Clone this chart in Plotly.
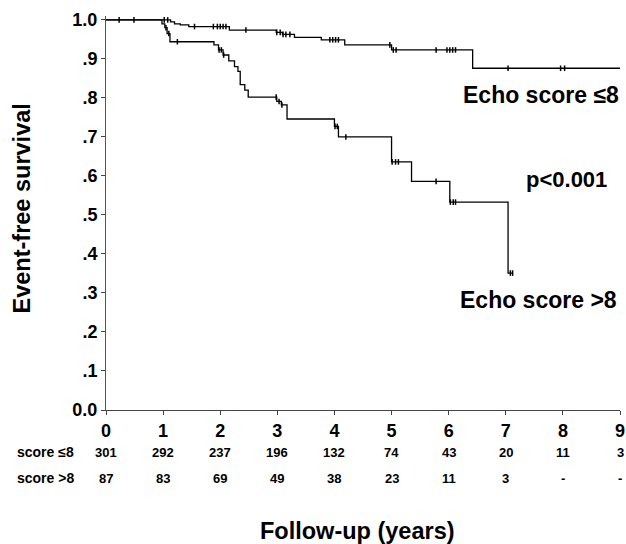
import plotly.graph_objects as go

# ---- data ----
years = [0, 1, 2, 3, 4, 5, 6, 7, 8, 9]
ytick_vals = [0.0, 0.1, 0.2, 0.3, 0.4, 0.5, 0.6, 0.7, 0.8, 0.9, 1.0]
ytick_text = ["0.0", ".1", ".2", ".3", ".4", ".5", ".6", ".7", ".8", ".9", "1.0"]

# Echo score <= 8 : step times and survival after each step
t_le8 = [0, 1.13, 1.20, 1.30, 1.45, 2.16, 2.98, 3.09, 3.30, 3.77, 4.18, 5.00, 6.42, 9.0]
s_le8 = [1.0, 0.995, 0.990, 0.987, 0.983, 0.974, 0.968, 0.963, 0.955, 0.949, 0.936, 0.923, 0.876, 0.876]
c_le8 = [0.23, 0.49, 1.02, 1.08, 1.55, 1.88, 1.95, 2.0, 2.05, 2.1, 2.45, 2.99, 3.05, 3.1, 3.15, 3.22,
         3.92, 3.97, 4.02, 4.07, 4.97, 5.03, 5.08, 5.78, 5.97, 6.02, 6.07, 6.12, 7.04, 7.96, 8.03]

# Echo score > 8
t_gt8 = [0, 0.98, 1.03, 1.07, 1.12, 1.89, 1.97, 2.05, 2.15, 2.25, 2.31, 2.35, 2.43, 2.49,
         2.99, 3.07, 3.17, 4.00, 4.07, 5.00, 5.35, 6.02, 7.04, 7.12]
s_gt8 = [1.0, 0.99, 0.98, 0.965, 0.944, 0.936, 0.923, 0.91, 0.895, 0.88, 0.868, 0.834, 0.82, 0.802,
         0.791, 0.782, 0.746, 0.727, 0.70, 0.636, 0.586, 0.533, 0.351, 0.351]
c_gt8 = [1.05, 1.1, 1.25, 1.98, 2.02, 2.06, 2.98, 3.03, 3.08, 4.01, 4.05, 4.2, 5.01, 5.07, 5.12,
         5.78, 6.03, 6.08, 6.12, 7.08, 7.12]

risk_le8 = ["301", "292", "237", "196", "132", "74", "43", "20", "11", "3"]
risk_gt8 = ["87", "83", "69", "49", "38", "23", "11", "3", "-", "-"]


def surv_at(t_list, s_list, x):
    v = s_list[0]
    for t, s in zip(t_list, s_list):
        if t <= x:
            v = s
    return v


FONT = "Arial, Liberation Sans, Helvetica, sans-serif"
fig = go.Figure()

for t, s, c in [(t_le8, s_le8, c_le8), (t_gt8, s_gt8, c_gt8)]:
    fig.add_trace(go.Scatter(x=t, y=s, mode="lines", line=dict(color="black", width=1.3, shape="hv"),
                             hoverinfo="skip", showlegend=False))
    fig.add_trace(go.Scatter(x=c, y=[surv_at(t, s, v) for v in c], mode="markers",
                             marker=dict(symbol="line-ns-open", size=4, color="black",
                                         line=dict(color="black", width=1.5)),
                             hoverinfo="skip", showlegend=False))

ann = []
ann.append(dict(x=7.62, y=0.808, xref="x", yref="y", text="<b>Echo score ≤8</b>", showarrow=False,
                xanchor="center", yanchor="middle", font=dict(size=23, family=FONT, color="black")))
ann.append(dict(x=8.06, y=0.59, xref="x", yref="y", text="<b>p<0.001</b>", showarrow=False,
                xanchor="center", yanchor="middle", font=dict(size=22, family=FONT, color="black")))
ann.append(dict(x=7.58, y=0.282, xref="x", yref="y", text="<b>Echo score >8</b>", showarrow=False,
                xanchor="center", yanchor="middle", font=dict(size=23, family=FONT, color="black")))

for yr, a, b in zip(years, risk_le8, risk_gt8):
    ann.append(dict(x=yr, y=-0.1066, xref="x", yref="paper", text="<b>%s</b>" % a, showarrow=False,
                    xanchor="center", yanchor="middle", font=dict(size=13, family=FONT, color="black")))
    ann.append(dict(x=yr, y=-0.1726, xref="x", yref="paper", text="<b>%s</b>" % b, showarrow=False,
                    xanchor="center", yanchor="middle", font=dict(size=13, family=FONT, color="black")))

ann.append(dict(x=-0.0584, y=-0.1066, xref="paper", yref="paper", xanchor="right", yanchor="middle",
                text="<b>score ≤8</b>", showarrow=False, font=dict(size=14, family=FONT, color="black")))
ann.append(dict(x=-0.0584, y=-0.1726, xref="paper", yref="paper", xanchor="right", yanchor="middle",
                text="<b>score >8</b>", showarrow=False, font=dict(size=14, family=FONT, color="black")))
ann.append(dict(x=0.49, y=-0.307, xref="paper", yref="paper", xanchor="center", yanchor="middle",
                text="<b>Follow-up (years)</b>", showarrow=False,
                font=dict(size=23.5, family=FONT, color="black")))
ann.append(dict(x=-0.163, y=0.512, xref="paper", yref="paper", xanchor="center", yanchor="middle",
                text="<b>Event-free survival</b>", textangle=-90, showarrow=False,
                font=dict(size=23.5, family=FONT, color="black")))

fig.update_layout(
    width=626, height=544,
    margin=dict(l=106, r=6, t=16, b=134),
    paper_bgcolor="white", plot_bgcolor="white",
    annotations=ann,
    xaxis=dict(range=[0, 9], tickvals=years, ticktext=[str(y) for y in years], showgrid=False,
               zeroline=False, showline=True, linecolor="#444", linewidth=1, ticks="outside", ticklen=4,
               tickcolor="#444", tickfont=dict(size=18, family=FONT, color="black", weight="bold"),
               automargin=False, fixedrange=True),
    yaxis=dict(range=[0, 1.01], tickvals=ytick_vals, ticktext=ytick_text, showgrid=False,
               zeroline=False, showline=True, linecolor="#555", linewidth=1, ticks="outside", ticklen=4,
               tickcolor="#444", tickfont=dict(size=18, family=FONT, color="black", weight="bold"),
               automargin=False, fixedrange=True),
)

fig.write_html("out.html", config={"displayModeBar": False},
               post_script="document.body.style.margin='0';")
